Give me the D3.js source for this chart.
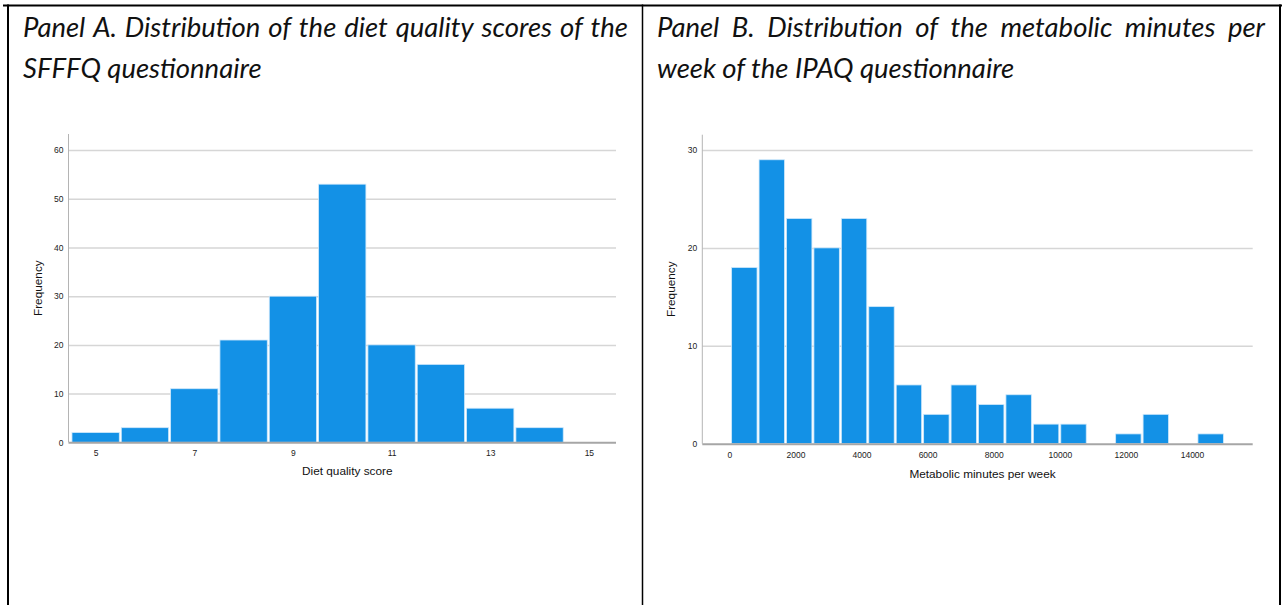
<!DOCTYPE html>
<html>
<head>
<meta charset="utf-8">
<script src="https://cdn.jsdelivr.net/npm/d3@7"></script>
<style>
    body { margin: 0; background: #fff; }
    svg { display: block; }
    .tick text { font-family: "Liberation Sans", Arial, sans-serif; font-size: 8.5px; fill: #222; }
    .axis-title { font-family: "Liberation Sans", Arial, sans-serif; font-size: 11.8px; fill: #111; }
    .panel-title { font-family: Lato, "Open Sans", sans-serif; font-style: italic; fill: #111; }
</style>
</head>
<body>
<svg id="chart" width="1282" height="605"></svg>
<script>
"use strict";

// Panel A: diet quality score (SFFFQ), one bar per integer score
const dietScores = [5, 6, 7, 8, 9, 10, 11, 12, 13, 14];
const dietCounts = [2, 3, 11, 21, 30, 53, 20, 16, 7, 3];
const dietXTicks = [5, 7, 9, 11, 13, 15];
const dietYTicks = [0, 10, 20, 30, 40, 50, 60];

// Panel B: metabolic minutes per week (IPAQ), SPSS auto bins
const metBinStart = 40, metBinWidth = 830;
const metCounts = [18, 29, 23, 20, 23, 14, 6, 3, 6, 4, 5, 2, 2, 0, 1, 3, 0, 1];
const metXTicks = [0, 2000, 4000, 6000, 8000, 10000, 12000, 14000];
const metYTicks = [0, 10, 20, 30];

const titleA = ["Panel A. Distribution of the diet quality scores of the", "SFFFQ questionnaire"];
const titleB = ["Panel B. Distribution of the metabolic minutes per", "week of the IPAQ questionnaire"];

const bar_fill = '#1391e6', bar_edge = '#cfe8fb';

const svg = d3.select('#chart');

// table frame
svg.append('line').attr('x1', 3).attr('x2', 1282).attr('y1', 5.5).attr('y2', 5.5)
    .attr('stroke', '#000').attr('stroke-width', 2);
[8, 642.5, 1280].forEach(x => {
    svg.append('line').attr('x1', x).attr('x2', x).attr('y1', 4.5).attr('y2', 605)
        .attr('stroke', '#000').attr('stroke-width', x === 642.5 ? 1.5 : 2);
});

// font size picked so the first line of panel A fills its cell naturally
function fit_size(text, width) {
    const probe = svg.append('text').attr('class', 'panel-title').attr('font-size', 24).text(text);
    const natural = probe.node().getComputedTextLength();
    probe.remove();
    return 24 * width / natural;
}
const title_size = fit_size(titleA[0], (628 - 23) * 0.975);

function title(lines, x0, x1) {
    const g = svg.append('g').attr('class', 'panel-title');
    // first line is justified between x0 and x1
    const words = lines[0].split(' ');
    const nodes = words.map(w => g.append('text').attr('font-size', title_size).attr('y', 36.5).text(w));
    const widths = nodes.map(n => n.node().getComputedTextLength());
    const gap = (x1 - x0 - d3.sum(widths)) / (words.length - 1);
    let x = x0;
    nodes.forEach((n, i) => { n.attr('x', x); x += widths[i] + gap; });
    g.append('text').attr('font-size', title_size).attr('x', x0).attr('y', 78).text(lines[1]);
}

title(titleA, 23, 628);
title(titleB, 657, 1265);

function panel(opts) {
    const {left, right, top, bottom, xDomain, yDomain, xTicks, yTicks, bars, xLabel, labelY} = opts;
    const x = d3.scaleLinear().domain(xDomain).range([left, right]);
    const y = d3.scaleLinear().domain(yDomain).range([bottom, top]);
    const g = svg.append('g');

    // gridlines through the y axis
    const yAxis = d3.axisLeft(y).tickValues(yTicks).tickSizeInner(-(right - left)).tickSizeOuter(0).tickPadding(5);
    const gy = g.append('g').attr('transform', `translate(${left},0)`).call(yAxis);
    gy.select('.domain').remove();
    gy.selectAll('.tick line').attr('stroke', '#d6d6d6').attr('stroke-width', 1.5)
        .filter(d => d === 0).remove();
    gy.selectAll('.tick text').attr('x', -5);

    g.selectAll('rect.bar').data(bars).join('rect')
        .attr('class', 'bar')
        .attr('x', d => x(d.x0) + 1)
        .attr('width', d => x(d.x1) - x(d.x0) - 2)
        .attr('y', d => y(d.count))
        .attr('height', d => y(0) - y(d.count))
        .attr('fill', bar_fill)
        .attr('stroke', bar_edge)
        .attr('stroke-width', 0.8)
        .style('display', d => d.count > 0 ? null : 'none');

    // axis lines
    g.append('line').attr('x1', left).attr('x2', left).attr('y1', top).attr('y2', bottom)
        .attr('stroke', '#b4b4b4').attr('stroke-width', 1);
    g.append('line').attr('x1', left).attr('x2', right).attr('y1', bottom + 0.5).attr('y2', bottom + 0.5)
        .attr('stroke', '#a6a6a6').attr('stroke-width', 2);

    const xAxis = d3.axisBottom(x).tickValues(xTicks).tickSize(0).tickPadding(8).tickFormat(d3.format('d'));
    const gx = g.append('g').attr('transform', `translate(0,${bottom})`).call(xAxis);
    gx.select('.domain').remove();

    g.append('text').attr('class', 'axis-title')
        .attr('x', (left + right) / 2 + 5).attr('y', labelY)
        .attr('text-anchor', 'middle').text(xLabel);
    g.append('text').attr('class', 'axis-title')
        .attr('transform', `translate(${left - 27},${(top + bottom) / 2}) rotate(-90)`)
        .attr('text-anchor', 'middle').text('Frequency');
}

panel({
    left: 68.5, right: 616, top: 134, bottom: 442.3,
    xDomain: [4.45, 15.55], yDomain: [0, 63.3],
    xTicks: dietXTicks, yTicks: dietYTicks,
    bars: dietScores.map((s, i) => ({x0: s - 0.5, x1: s + 0.5, count: dietCounts[i]})),
    xLabel: 'Diet quality score', labelY: 475
});

panel({
    left: 702.3, right: 1252.7, top: 134.7, bottom: 443.7,
    xDomain: [-817, 15837], yDomain: [0, 31.56],
    xTicks: metXTicks, yTicks: metYTicks,
    bars: metCounts.map((c, i) => ({x0: metBinStart + i * metBinWidth, x1: metBinStart + (i + 1) * metBinWidth, count: c})),
    xLabel: 'Metabolic minutes per week', labelY: 478
});
</script>
</body>
</html>
